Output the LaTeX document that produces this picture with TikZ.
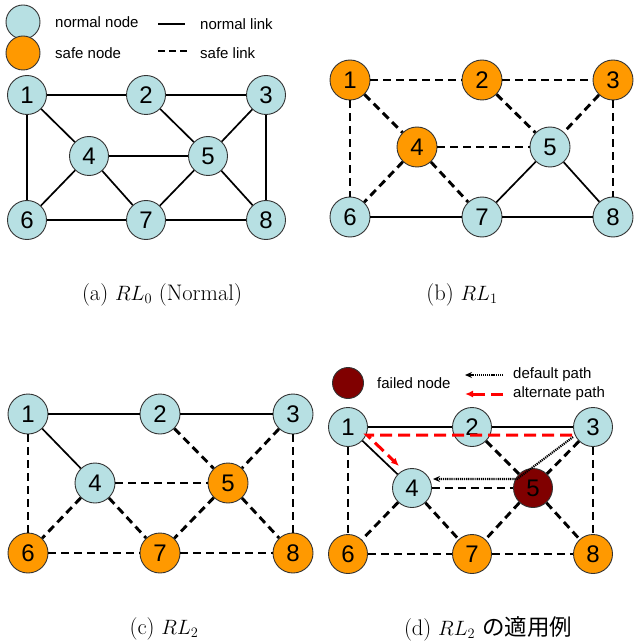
\documentclass[tikz,border=0pt]{standalone}
\usepackage{fontspec}
\newfontfamily\arialfont{Liberation Sans}
\newfontfamily\cjk{Noto Sans CJK JP}
\usetikzlibrary{arrows.meta,calc}
\definecolor{nodeblue}{RGB}{183,224,227}
\definecolor{safeorange}{RGB}{255,153,0}
\definecolor{failred}{RGB}{128,0,0}
\tikzset{
  vtx/.style={circle,draw=black!80,line width=0.9pt,fill=#1,minimum size=39pt,
    inner sep=0pt,font=\arialfont\fontsize{24}{24}\selectfont},
  legvtx/.style={circle,draw=black!80,line width=0.9pt,fill=#1,inner sep=0pt},
  nlink/.style={line width=1.7pt},
  slink/.style={line width=2.9pt,dash pattern=on 8pt off 5pt},
  defpath/.style={line width=2.2pt,dash pattern=on 1.2pt off 0.9pt,-{Stealth[length=7pt,width=6pt]}},
  altpath/.style={red,line width=3pt,dash pattern=on 12pt off 6pt,-{Latex[length=8pt,width=7pt]}},
  lbl/.style={font=\arialfont\fontsize{15}{15}\selectfont,anchor=west,inner sep=0pt},
  captext/.style={font=\fontsize{22.5}{26}\selectfont},
}
\begin{document}
\begin{tikzpicture}[x=1pt,y=-1pt]
  \useasboundingbox (0,0) rectangle (633,644);
  % legend (a)
  \node[legvtx=nodeblue,minimum size=34pt] (lgn) at (23,22) {};
  \node[legvtx=safeorange,minimum size=34pt] (lgs) at (23,53) {};
  \node[lbl] (lgntxt) at (55,22) {normal node};
  \node[lbl] (lgstxt) at (55,53) {safe node};
  \coordinate (lna) at (158,24); \coordinate (lnb) at (185,24);
  \coordinate (lsa) at (158,51); \coordinate (lsb) at (187,51);
  \draw[nlink] (lna) -- (lnb);
  \draw[slink,dash pattern=on 7pt off 4pt] (lsa) -- (lsb);
  \node[lbl] (lnltxt) at (200,24) {normal link};
  \node[lbl] (lsltxt) at (200,53) {safe link};
  % (a) RL0
  \foreach \n/\x/\y/\c in {1/27/95/nodeblue,2/146/95/nodeblue,3/266/95/nodeblue,
      4/89/156/nodeblue,5/208/156/nodeblue,6/27/220/nodeblue,7/146/220/nodeblue,8/266/220/nodeblue}{%
    \node[vtx=\c] (a\n) at (\x,\y) {\n};
  }
  \foreach \u/\v in {1/2,2/3,1/4,1/6,2/5,3/5,3/8,4/5,4/6,4/7,5/7,5/8,6/7,7/8}{%
    \draw[nlink] (a\u) -- (a\v);
  }
  \node[captext] (capa) at (162,295) {(a)~$RL_0$~(Normal)};
  % (b) RL1
  \foreach \n/\x/\y/\c in {1/350/80/safeorange,2/482/80/safeorange,3/613/80/safeorange,
      4/417/147/safeorange,5/550/147/nodeblue,6/350/217/nodeblue,7/482/217/nodeblue,8/613/217/nodeblue}{%
    \node[vtx=\c,minimum size=40pt] (b\n) at (\x,\y) {\n};
  }
  \foreach \u/\v in {1/2,2/3,1/4,1/6,2/5,3/5,3/8,4/5,4/6,4/7}{%
    \draw[slink] (b\u) -- (b\v);
  }
  \foreach \u/\v in {5/7,5/8,6/7,7/8}{%
    \draw[nlink] (b\u) -- (b\v);
  }
  \node[captext] (capb) at (462,295) {(b)~$RL_1$};
  % (c) RL2
  \foreach \n/\x/\y/\c in {1/28/414/nodeblue,2/160/414/nodeblue,3/293/414/nodeblue,
      4/95/483/nodeblue,5/228/483/safeorange,6/28/553/safeorange,7/160/553/safeorange,8/293/553/safeorange}{%
    \node[vtx=\c,minimum size=40pt] (c\n) at (\x,\y) {\n};
  }
  \foreach \u/\v in {1/2,2/3,1/4}{%
    \draw[nlink] (c\u) -- (c\v);
  }
  \foreach \u/\v in {1/6,2/5,3/5,3/8,4/5,4/6,4/7,5/7,5/8,6/7,7/8}{%
    \draw[slink] (c\u) -- (c\v);
  }
  \node[captext] (capc) at (164,629) {(c)~$RL_2$};
  % legend (d)
  \node[legvtx=failred,minimum size=31pt] (lgf) at (348,383) {};
  \node[lbl] (lgftxt) at (377,383) {failed node};
  \coordinate (lda) at (503,375); \coordinate (ldb) at (465,375);
  \coordinate (laa) at (503,394); \coordinate (lab) at (465,394);
  \draw[defpath] (lda) -- (ldb);
  \draw[altpath] (laa) -- (lab);
  \node[lbl] (lgdtxt) at (513,375) {default path};
  \node[lbl] (lgatxt) at (513,394) {alternate path};
  % (d) RL2 example
  \foreach \n/\x/\y/\c in {1/348/427/nodeblue,2/472/427/nodeblue,3/593/427/nodeblue,
      4/412/488/nodeblue,5/533/488/failred,6/348/554/safeorange,7/472/554/safeorange,8/593/554/safeorange}{%
    \node[vtx=\c] (d\n) at (\x,\y) {\n};
  }
  \foreach \u/\v in {1/2,2/3,1/4}{%
    \draw[nlink] (d\u) -- (d\v);
  }
  \foreach \u/\v in {1/6,2/5,3/5,3/8,4/5,4/6,4/7,5/7,5/8,6/7,7/8}{%
    \draw[slink] (d\u) -- (d\v);
  }
  \coordinate (dfs) at (573,437); \coordinate (dfm) at (517,479); \coordinate (dfe) at (433,479);
  \draw[defpath] (dfs) -- (dfm) -- (dfe);
  \coordinate (als) at (572,435); \coordinate (alm) at (367,435); \coordinate (ale) at (399,466);
  \draw[altpath] (als) -- (alm) -- (ale);
  \node[captext] (capd) at (488,629) {(d)~$RL_2$~{\cjk の適用例}};
\end{tikzpicture}
\end{document}
